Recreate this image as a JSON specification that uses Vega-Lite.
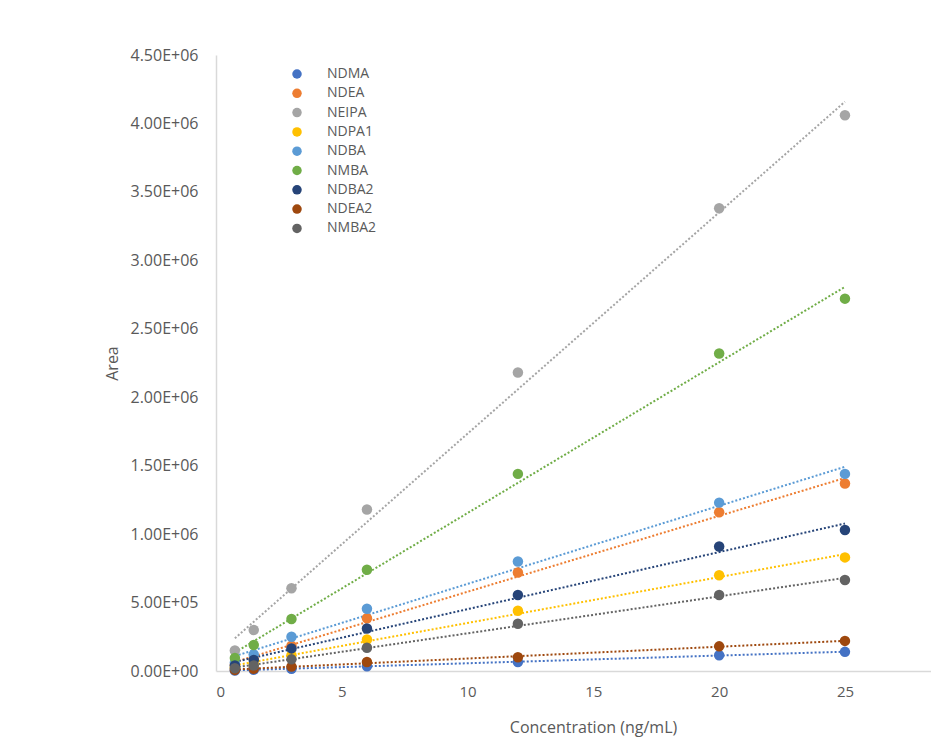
{
  "$schema": "https://vega.github.io/schema/vega-lite/v6.json",
  "autosize": "none",
  "width": 715,
  "height": 616,
  "padding": {"left": 216, "top": 55, "right": 0, "bottom": 83},
  "background": "white",
  "config": {
    "view": {"stroke": null},
    "font": "Open Sans",
    "axis": {"grid": false, "ticks": false, "domainColor": "#D9D9D9", "domainWidth": 1.5, "labelColor": "#595959", "titleColor": "#595959", "labelFont": "Open Sans", "titleFont": "Open Sans", "titleFontWeight": "normal"}
  },
  "data": {"values": [
    {"s": "NDMA", "c": 0.75, "Area": 4000}, {"s": "NDMA", "c": 1.5, "Area": 9000}, {"s": "NDMA", "c": 3, "Area": 17000}, {"s": "NDMA", "c": 6, "Area": 35000}, {"s": "NDMA", "c": 12, "Area": 66000}, {"s": "NDMA", "c": 20, "Area": 115000}, {"s": "NDMA", "c": 25, "Area": 140000},
    {"s": "NDEA", "c": 0.75, "Area": 45000}, {"s": "NDEA", "c": 1.5, "Area": 90000}, {"s": "NDEA", "c": 3, "Area": 185000}, {"s": "NDEA", "c": 6, "Area": 385000}, {"s": "NDEA", "c": 12, "Area": 720000}, {"s": "NDEA", "c": 20, "Area": 1160000}, {"s": "NDEA", "c": 25, "Area": 1370000},
    {"s": "NEIPA", "c": 0.75, "Area": 150000}, {"s": "NEIPA", "c": 1.5, "Area": 300000}, {"s": "NEIPA", "c": 3, "Area": 605000}, {"s": "NEIPA", "c": 6, "Area": 1180000}, {"s": "NEIPA", "c": 12, "Area": 2180000}, {"s": "NEIPA", "c": 20, "Area": 3380000}, {"s": "NEIPA", "c": 25, "Area": 4060000},
    {"s": "NDPA1", "c": 0.75, "Area": 28000}, {"s": "NDPA1", "c": 1.5, "Area": 55000}, {"s": "NDPA1", "c": 3, "Area": 115000}, {"s": "NDPA1", "c": 6, "Area": 230000}, {"s": "NDPA1", "c": 12, "Area": 440000}, {"s": "NDPA1", "c": 20, "Area": 700000}, {"s": "NDPA1", "c": 25, "Area": 830000},
    {"s": "NDBA", "c": 0.75, "Area": 60000}, {"s": "NDBA", "c": 1.5, "Area": 120000}, {"s": "NDBA", "c": 3, "Area": 250000}, {"s": "NDBA", "c": 6, "Area": 455000}, {"s": "NDBA", "c": 12, "Area": 800000}, {"s": "NDBA", "c": 20, "Area": 1230000}, {"s": "NDBA", "c": 25, "Area": 1440000},
    {"s": "NMBA", "c": 0.75, "Area": 95000}, {"s": "NMBA", "c": 1.5, "Area": 190000}, {"s": "NMBA", "c": 3, "Area": 380000}, {"s": "NMBA", "c": 6, "Area": 740000}, {"s": "NMBA", "c": 12, "Area": 1440000}, {"s": "NMBA", "c": 20, "Area": 2320000}, {"s": "NMBA", "c": 25, "Area": 2720000},
    {"s": "NDBA2", "c": 0.75, "Area": 40000}, {"s": "NDBA2", "c": 1.5, "Area": 80000}, {"s": "NDBA2", "c": 3, "Area": 165000}, {"s": "NDBA2", "c": 6, "Area": 310000}, {"s": "NDBA2", "c": 12, "Area": 555000}, {"s": "NDBA2", "c": 20, "Area": 910000}, {"s": "NDBA2", "c": 25, "Area": 1030000},
    {"s": "NDEA2", "c": 0.75, "Area": 8000}, {"s": "NDEA2", "c": 1.5, "Area": 16000}, {"s": "NDEA2", "c": 3, "Area": 32000}, {"s": "NDEA2", "c": 6, "Area": 66000}, {"s": "NDEA2", "c": 12, "Area": 100000}, {"s": "NDEA2", "c": 20, "Area": 180000}, {"s": "NDEA2", "c": 25, "Area": 220000},
    {"s": "NMBA2", "c": 0.75, "Area": 20000}, {"s": "NMBA2", "c": 1.5, "Area": 40000}, {"s": "NMBA2", "c": 3, "Area": 85000}, {"s": "NMBA2", "c": 6, "Area": 170000}, {"s": "NMBA2", "c": 12, "Area": 345000}, {"s": "NMBA2", "c": 20, "Area": 555000}, {"s": "NMBA2", "c": 25, "Area": 665000}
  ]},
  "encoding": {
    "x": {"field": "c", "type": "quantitative", "title": "Concentration (ng/mL)",
      "scale": {"domain": [0, 28.42], "nice": false},
      "axis": {"values": [0, 5, 10, 15, 20, 25], "labelFontSize": 15, "labelPadding": 13, "titleFontSize": 16, "titleX": 377, "titleY": 56, "titleBaseline": "middle", "titleAlign": "center"}},
    "y": {"field": "Area", "type": "quantitative", "title": "Area",
      "scale": {"domain": [0, 4500000], "nice": false},
      "axis": {"values": [0, 500000, 1000000, 1500000, 2000000, 2500000, 3000000, 3500000, 4000000, 4500000], "labelExpr": "replace(format(datum.value, '.2e'), 'e+', 'E+0')", "labelFontSize": 16, "labelPadding": 18, "titleFontSize": 16, "titlePadding": 10}}
  },
  "layer": [
    {
      "transform": [{"regression": "Area", "on": "c", "groupby": ["s"]}],
      "mark": {"type": "line", "strokeDash": [2, 2], "strokeWidth": 2, "clip": true},
      "encoding": {"color": {"field": "s", "type": "nominal", "legend": null,
        "scale": {"domain": ["NDMA", "NDEA", "NEIPA", "NDPA1", "NDBA", "NMBA", "NDBA2", "NDEA2", "NMBA2"],
          "range": ["#4472C4", "#ED7D31", "#A5A5A5", "#FFC000", "#5B9BD5", "#70AD47", "#264478", "#9E480E", "#636363"]}}}
    },
    {
      "mark": {"type": "point", "filled": true, "size": 110, "opacity": 1},
      "encoding": {"color": {"field": "s", "type": "nominal", "title": null,
        "scale": {"domain": ["NDMA", "NDEA", "NEIPA", "NDPA1", "NDBA", "NMBA", "NDBA2", "NDEA2", "NMBA2"],
          "range": ["#4472C4", "#ED7D31", "#A5A5A5", "#FFC000", "#5B9BD5", "#70AD47", "#264478", "#9E480E", "#636363"]},
        "legend": {"orient": "none", "legendX": 74, "legendY": 12, "padding": 0, "symbolType": "circle", "symbolSize": 90, "symbolStrokeWidth": 0, "labelFontSize": 14, "labelColor": "#595959", "labelOffset": 23, "rowPadding": 5.3, "symbolOpacity": 1}}}
    }
  ],
  "resolve": {"scale": {"color": "independent"}, "legend": {"color": "independent"}}
}
